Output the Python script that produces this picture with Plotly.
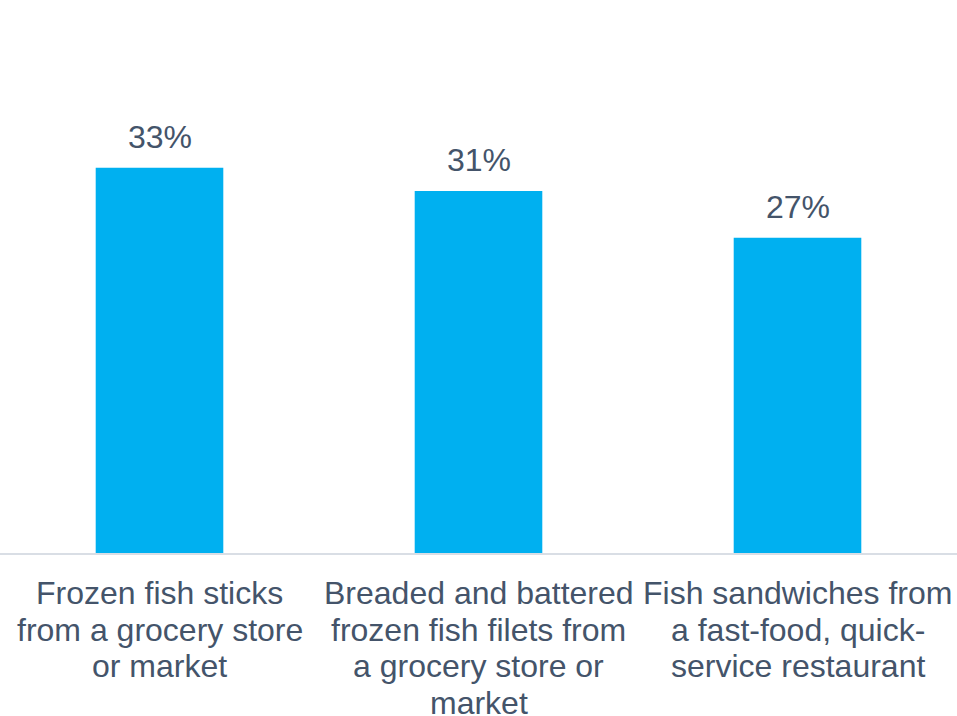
import plotly.graph_objects as go

categories = [
    "Frozen fish sticks from a grocery store or market",
    "Breaded and battered frozen fish filets from a grocery store or market",
    "Fish sandwiches from a fast-food, quick-service restaurant",
]
category_lines = [
    ["Frozen fish sticks", "from a grocery store", "or market"],
    ["Breaded and battered", "frozen fish filets from", "a grocery store or", "market"],
    ["Fish sandwiches from", "a fast-food, quick-", "service restaurant"],
]
values = [33, 31, 27]
labels = [f"{v}%" for v in values]

BAR_COLOR = "#00B0F0"
TEXT_COLOR = "#44546A"
FONT = "Liberation Sans, Arial, sans-serif"
FONT_SIZE = 32
LINE_STEP = 36.5

fig = go.Figure(
    go.Bar(
        x=categories,
        y=values,
        marker=dict(color=BAR_COLOR, line=dict(width=0)),
        width=0.4,
        hoverinfo="skip",
    )
)

annotations = []
# value labels above each bar
for cat, v, lab in zip(categories, values, labels):
    annotations.append(dict(
        x=cat, y=v, xref="x", yref="y", text=lab, showarrow=False,
        yanchor="bottom", yshift=11,
        font=dict(size=FONT_SIZE, color=TEXT_COLOR, family=FONT),
    ))
# wrapped category labels under the axis, one line at a time
for cat, lines in zip(categories, category_lines):
    for i, line in enumerate(lines):
        annotations.append(dict(
            x=cat, y=0, xref="x", yref="paper", text=line, showarrow=False,
            yanchor="middle", yshift=-(40 + i * LINE_STEP),
            font=dict(size=FONT_SIZE, color=TEXT_COLOR, family=FONT),
        ))

fig.update_layout(
    width=957,
    height=716,
    margin=dict(l=0, r=0, t=86, b=163),
    paper_bgcolor="white",
    plot_bgcolor="white",
    showlegend=False,
    font=dict(family=FONT, color=TEXT_COLOR, size=FONT_SIZE),
    annotations=annotations,
)
fig.update_xaxes(
    showline=True,
    linecolor="#D9DEE5",
    linewidth=2,
    ticks="",
    showticklabels=False,
    showgrid=False,
)
fig.update_yaxes(
    range=[0, 40],
    visible=False,
    showgrid=False,
    zeroline=False,
)

fig.write_html("out.html")
